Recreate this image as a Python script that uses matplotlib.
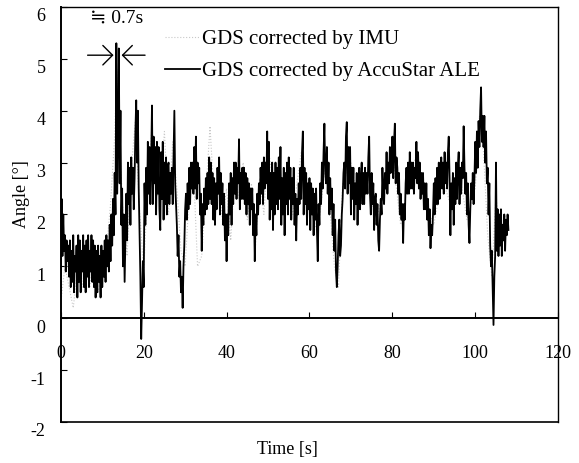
import matplotlib
matplotlib.use("Agg")
import matplotlib.pyplot as plt
import matplotlib.transforms as mtransforms
import numpy as np

plt.rcParams['font.family'] = ['Liberation Serif', 'DejaVu Serif']
plt.rcParams['axes.unicode_minus'] = False

# GDS corrected by AccuStar ALE (black), sampled every 0.2 s, read off the figure
# one row = 2 s
ale_angle = [
    0.5, 2.3, 1.2, 2.0, 1.3, 1.6, 0.9, 1.5, 1.1, 1.4,     # 0
    0.8, 1.5, 0.6, 1.3, 0.7, 1.6, 0.5, 1.2, 0.9, 1.4,     # 2
    0.4, 1.6, 0.7, 1.5, 0.5, 1.3, 0.9, 1.6, 0.6, 1.4,     # 4
    0.5, 1.5, 0.8, 1.6, 0.6, 1.3, 0.9, 1.6, 0.7, 1.5,     # 6
    0.6, 1.4, 0.4, 1.3, 0.5, 1.4, 0.7, 1.2, 0.4, 1.4,     # 8
    0.6, 1.3, 0.8, 1.5, 0.7, 1.6, 1.0, 1.5, 0.9, 1.8,     # 10
    1.1, 2.0, 1.4, 2.3, 1.6, 2.8, 2.0, 5.3, 2.4, 3.5,     # 12
    5.2, 2.6, 4.0, 1.8, 2.5, 1.0, 2.0, 0.7, 1.6, 2.4,     # 14
    1.5, 3.0, 2.2, 2.9, 1.8, 3.1, 2.4, 2.9, 2.1, 2.7,     # 16
    3.6, 4.2, 3.0, 4.0, 2.5, 1.6, 0.8, -0.4, 0.3, 1.1,    # 18
    0.6, 2.6, 1.8, 2.9, 2.0, 3.4, 2.4, 3.3, 2.2, 3.0,     # 20
    4.1, 2.2, 3.5, 2.6, 3.3, 2.0, 3.4, 2.4, 3.3, 2.1,     # 22
    1.7, 3.2, 2.3, 3.4, 1.9, 3.0, 2.2, 3.1, 2.0, 2.9,     # 24
    3.0, 2.2, 2.8, 2.4, 2.9, 2.2, 3.1, 4.0, 2.6, 2.2,     # 26
    1.8, 1.2, 1.6, 0.8, 1.1, 0.5, 0.8, 0.2, 1.0, 1.4,     # 28
    2.1, 2.4, 1.9, 2.6, 2.1, 2.9, 2.2, 3.0, 2.5, 3.0,     # 30
    2.4, 3.3, 2.5, 3.5, 2.3, 3.0, 2.6, 2.9, 2.0, 2.4,     # 32
    1.3, 2.2, 1.8, 2.5, 2.0, 2.7, 2.1, 2.8, 2.2, 3.1,     # 34
    2.3, 3.0, 2.2, 2.8, 1.9, 2.7, 1.8, 2.6, 2.1, 2.9,     # 36
    2.4, 3.1, 2.0, 2.8, 2.2, 2.6, 1.8, 2.4, 1.5, 2.0,     # 38
    1.1, 2.0, 1.6, 2.6, 2.0, 2.8, 1.8, 2.7, 2.2, 3.0,     # 40
    2.4, 3.0, 2.3, 2.9, 2.6, 3.45, 2.1, 2.8, 2.3, 2.9,    # 42
    2.3, 2.9, 2.2, 2.8, 2.0, 2.7, 2.2, 2.6, 1.8, 2.5,     # 44
    2.1, 2.5, 1.6, 2.2, 1.1, 2.0, 1.6, 2.4, 2.0, 2.6,     # 46
    2.2, 2.9, 2.4, 3.0, 2.2, 3.1, 2.5, 3.0, 2.6, 3.6,     # 48
    2.3, 3.4, 1.9, 2.8, 2.1, 3.0, 1.7, 2.8, 2.0, 3.0,     # 50
    2.2, 2.9, 2.1, 3.1, 2.3, 3.3, 1.8, 2.7, 2.0, 2.9,     # 52
    1.6, 2.8, 2.2, 3.0, 2.0, 3.1, 2.3, 2.9, 1.9, 2.7,     # 54
    2.2, 2.9, 1.8, 2.4, 1.5, 2.3, 2.0, 2.6, 2.2, 2.9,     # 56
    2.3, 3.2, 3.6, 2.0, 2.9, 2.2, 2.8, 1.8, 2.6, 2.1,     # 58
    2.7, 1.7, 2.6, 2.0, 2.5, 1.6, 2.4, 1.9, 2.5, 1.7,     # 60
    1.1, 2.2, 1.8, 2.6, 2.2, 3.0, 2.5, 3.2, 3.75, 2.8,    # 62
    2.6, 3.3, 2.4, 3.0, 2.0, 2.7, 2.1, 2.5, 1.6, 2.2,     # 64
    1.3, 1.9, 0.9, 0.6, 1.0, 1.6, 1.9, 1.2, 1.4, 2.0,     # 66
    2.3, 2.8, 3.0, 2.5, 3.5, 3.78, 2.4, 3.3, 2.6, 3.3,    # 68
    2.0, 2.9, 2.3, 2.9, 1.9, 2.6, 2.2, 2.8, 1.8, 2.6,     # 70
    2.9, 2.1, 2.7, 3.0, 2.2, 2.8, 2.2, 2.9, 2.4, 2.8,     # 72
    2.4, 3.1, 3.5, 2.4, 2.0, 2.8, 2.2, 2.6, 1.7, 2.3,     # 74
    2.4, 1.8, 2.2, 1.5, 1.3, 1.9, 2.3, 2.0, 2.9, 2.4,     # 76
    2.2, 2.8, 2.5, 3.2, 2.4, 3.0, 2.6, 3.3, 2.8, 3.1,     # 78
    3.5, 2.7, 3.4, 3.75, 2.6, 3.1, 2.9, 2.4, 2.8, 2.0,    # 80
    2.4, 1.9, 2.2, 1.45, 2.2, 1.9, 2.6, 2.9, 2.4, 3.0,    # 82
    2.4, 3.2, 2.5, 3.0, 2.5, 3.0, 2.4, 2.9, 2.7, 3.4,     # 84
    2.6, 3.2, 2.5, 3.0, 2.3, 2.8, 2.4, 2.8, 2.1, 2.6,     # 86
    2.1, 2.6, 1.9, 2.3, 1.6, 2.1, 1.35, 1.8, 1.6, 2.0,    # 88
    2.6, 2.0, 2.7, 2.2, 2.9, 2.2, 3.0, 2.3, 2.8, 3.1,     # 90
    2.5, 3.0, 2.4, 3.2, 2.6, 3.0, 2.5, 3.2, 3.5, 2.7,     # 92
    1.6, 2.6, 2.1, 2.8, 1.8, 2.7, 2.2, 3.0, 2.3, 2.9,     # 94
    3.2, 2.2, 2.9, 2.4, 3.0, 2.7, 3.7, 2.9, 2.4, 2.8,     # 96
    2.0, 2.6, 1.8, 1.45, 2.1, 2.6, 2.3, 2.8, 2.2, 2.7,    # 98
    3.4, 2.8, 3.6, 2.9, 3.8, 3.3, 4.0, 4.45, 3.4, 3.9,    # 100
    3.3, 3.9, 3.0, 3.6, 2.6, 2.9, 2.0, 2.6, 1.4, 1.0,     # 102
    1.3, 0.6, -0.13, 0.8, 1.2, 3.0, 1.3, 2.1, 1.2, 2.0,   # 104
    1.4, 2.1, 1.2, 1.8, 1.5, 2.0, 1.3, 1.9, 1.6, 2.0,     # 106
    1.7,                                                  # 108
]
ale_dt = 0.2  # sample period [s]
ale_t = np.arange(len(ale_angle)) * ale_dt

# GDS corrected by IMU (light grey, mostly hidden behind the black trace)
imu_t = [0, 1, 2, 3, 4, 5, 6, 7, 8, 9, 10, 11, 12, 13, 13.5, 14, 15, 16, 17, 18, 19, 20,
         21, 22, 23, 24, 25, 26, 27, 28, 29, 30, 31, 32, 33, 34, 35, 36, 37, 38, 39, 40,
         41, 42, 43, 44, 45, 46, 47, 48, 49, 50, 52, 54, 56, 58, 60, 62, 64, 66, 67, 68,
         70, 72, 74, 76, 78, 80, 82, 84, 86, 88, 90, 92, 94, 96, 98, 100, 101, 102, 103,
         104, 105, 106, 107, 108]
imu_angle = [0.3, 1.0, 0.6, 0.2, 0.9, 0.5, 1.1, 0.6, 1.2, 0.5, 1.0, 1.3, 2.2, 3.5, 4.8, 3.8,
             2.0, 1.2, 2.9, 3.8, 2.1, 0.9, 2.6, 3.7, 2.3, 2.6, 3.6, 2.0, 3.4, 2.5, 1.3, 1.0,
             2.4, 2.9, 1.0, 1.2, 2.4, 3.7, 2.3, 2.8, 1.9, 2.5, 1.5, 2.8, 2.3, 3.0, 1.9, 2.6,
             1.4, 2.7, 2.0, 3.3, 2.2, 2.8, 2.0, 3.2, 2.2, 1.6, 3.1, 1.0, 0.6, 2.6, 3.0, 2.1,
             2.8, 1.8, 2.6, 3.2, 1.8, 2.7, 3.2, 2.2, 1.8, 2.7, 2.2, 2.9, 1.9, 2.5, 3.9, 3.2,
             1.6, 0.8, 2.4, 1.4, 2.0, 1.8]

fig = plt.figure(figsize=(5.79, 4.63), dpi=100)
ax = fig.add_axes([0.105, 0.0886, 0.859, 0.8964])

ax.plot(imu_t, imu_angle, color='#c8c8c8', linewidth=0.8, linestyle=':',
        label='GDS corrected by IMU')
ax.plot(ale_t, ale_angle, color='black', linewidth=1.3,
        label='GDS corrected by AccuStar ALE')

ax.set_xlim(0, 120)
ax.set_ylim(-2, 6)
ax.set_xticks([0, 20, 40, 60, 80, 100, 120])
ax.set_yticks([-2, -1, 0, 1, 2, 3, 4, 5, 6])

# x axis runs through y=0, box closed at the bottom with a plain line
ax.spines['bottom'].set_position(('data', 0))
ax.axhline(-2, color='black', linewidth=1.2, clip_on=False)
for s in ax.spines.values():
    s.set_linewidth(1.0)
ax.spines['left'].set_linewidth(1.4)
ax.spines['bottom'].set_linewidth(1.4)

ax.tick_params(axis='x', direction='in', length=4, pad=19, labelsize=13)
ax.tick_params(axis='y', direction='in', length=4, pad=11, labelsize=13)

# y tick labels sit a bit below their ticks in the original
offset = mtransforms.ScaledTranslation(0, -8 / 100, fig.dpi_scale_trans)
for lbl in ax.get_yticklabels():
    lbl.set_transform(lbl.get_transform() + offset)

ax.set_xlabel('Time [s]', fontsize=13)
ax.xaxis.set_label_coords(0.455, -0.045)
ax.set_ylabel('Angle [°]', fontsize=13)
ax.yaxis.set_label_coords(-0.062, 0.55)

# time-gap marker at the peak
ax.annotate('', xy=(13.4, 5.07), xytext=(5.8, 5.07),
            arrowprops=dict(arrowstyle='->,head_length=0.7,head_width=0.7', color='black', lw=1.0))
ax.annotate('', xy=(14.0, 5.07), xytext=(21.0, 5.07),
            arrowprops=dict(arrowstyle='->,head_length=0.7,head_width=0.7', color='black', lw=1.0))
ax.text(13.4, 5.79, '≒ 0.7s', fontsize=14, ha='center', va='center')

ax.legend(loc='upper left', bbox_to_anchor=(0.209, 0.945), frameon=False, fontsize=15,
          handlelength=1.7, handletextpad=0.1, labelspacing=0.6, borderpad=0, borderaxespad=0)

fig.savefig('out.png', dpi=100)
